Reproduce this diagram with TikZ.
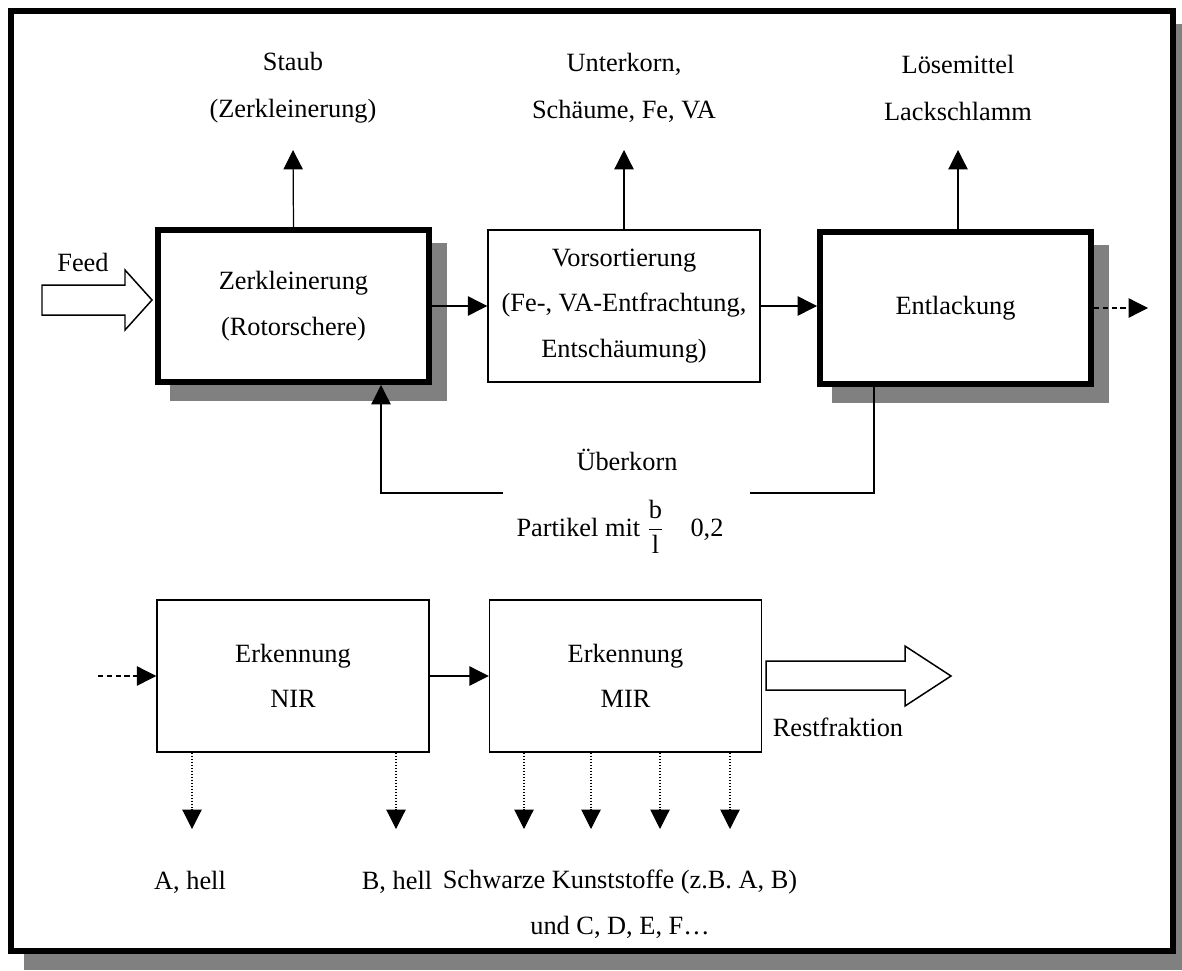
\documentclass[tikz,border=0pt]{standalone}
\usepackage{fontspec}
\setmainfont{Liberation Serif}
\usepackage{amsmath}
\usetikzlibrary{arrows.meta, backgrounds}
\definecolor{shadowgray}{HTML}{808080}

\begin{document}
\begin{tikzpicture}[x=0.02cm, y=-0.02cm,
    heavy box/.style={draw, line width=3.4pt, fill=white, align=center,
                      minimum width=5.42cm, minimum height=3.04cm,
                      font=\fontsize{15}{26}\selectfont},
    light box/.style={draw, line width=0.85pt, fill=white, align=center,
                      minimum width=5.44cm, minimum height=3.04cm,
                      font=\fontsize{15}{26}\selectfont},
    note/.style={align=center, font=\fontsize{15}{26.6}\selectfont},
    flow/.style={-{Triangle[length=11pt, width=11pt]}, line width=0.7pt},
    out arrow/.style={draw, line width=0.85pt, fill=white},
]
    \useasboundingbox (0,0) rectangle (1182,970);

    % Upper line
    \node[heavy box] (zerk) at (293.5,306) {Zerkleinerung\\(Rotorschere)};
    \node[light box] (vors) at (624,306) {Vorsortierung\\(Fe-, VA-Entfrachtung,\\Entschäumung)};
    \node[heavy box] (entl) at (955.5,308) {Entlackung};

    \node[note] (staub) at (293,88) {Staub\\(Zerkleinerung)};
    \node[note] (unter) at (624,88) {Unterkorn,\\Schäume, Fe, VA};
    \node[note] (loese) at (958,88) {Lösemittel\\Lackschlamm};
    \coordinate (staub end) at (293,150);
    \coordinate (unter end) at (624,150);
    \coordinate (loese end) at (958,150);

    \draw[flow] (zerk.north) -- (staub end);
    \draw[flow] (vors.north) -- (unter end);
    \draw[flow] (958,0 |- entl.north) -- (loese end);
    \draw[flow] (zerk.east) -- (vors.west);
    \draw[flow] (vors.east) -- (vors.east -| entl.west);
    \coordinate (entl out) at (1148,308);
    \draw[flow, dash pattern=on 3pt off 2pt] (entl.east) -- (entl out);

    % Feed
    \draw[out arrow] (42,285) -- (125,285) -- (125,270) -- (152,300)
        -- (125,330) -- (125,315) -- (42,315) -- cycle;
    \node[note] (feed) at (83,262) {Feed};

    % Recycle of oversize
    \node[note] (ueber) at (627,460) {Überkorn};
    \node[note] (partikel) at (620,527) {Partikel mit $\dfrac{\text{b}}{\text{l}}$\quad 0,2};
    \coordinate (fb left) at (503,493);
    \coordinate (fb right) at (750,493);
    \draw[flow] (fb left) -| (381,0 |- zerk.south);
    \draw[line width=0.7pt] (fb right) -| (874,0 |- entl.south);

    % Lower line
    \node[light box] (nir) at (293,676) {Erkennung\\NIR};
    \node[light box] (mir) at (625.5,676) {Erkennung\\MIR};
    \coordinate (nir in) at (98,676);
    \draw[flow, dash pattern=on 3pt off 2pt] (nir in) -- (nir.west);
    \draw[flow] (nir.east) -- (mir.west);

    % Restfraktion
    \draw[out arrow] (766,661) -- (905,661) -- (905,646) -- (951,676)
        -- (905,706) -- (905,690) -- (766,690) -- cycle;
    \node[note] (rest) at (838,727) {Restfraktion};

    \foreach \x in {192, 396}
        \draw[flow, densely dotted, line width=0.6pt] (\x,0 |- nir.south) -- (\x,829);
    \foreach \x in {524, 591, 660, 730}
        \draw[flow, densely dotted, line width=0.6pt] (\x,0 |- mir.south) -- (\x,829);

    \node[note] (ahell) at (190,882) {A, hell};
    \node[note] (bhell) at (397,882) {B, hell};
    \node[note] (schwarz) at (620,882) {Schwarze Kunststoffe (z.B. A, B)};
    \node[note] (und) at (620,927) {und C, D, E, F…};

    % Frame and shadows
    \begin{scope}[on background layer]
        \fill[shadowgray] (24,24) rectangle (1182,970);
        \draw[line width=3.4pt, fill=white] (11,11) rectangle (1173,951);
        \foreach \b in {zerk, entl}
            \fill[shadowgray] ([shift={(15,16)}]\b.north west) rectangle ([shift={(15,16)}]\b.south east);
    \end{scope}
\end{tikzpicture}
\end{document}
